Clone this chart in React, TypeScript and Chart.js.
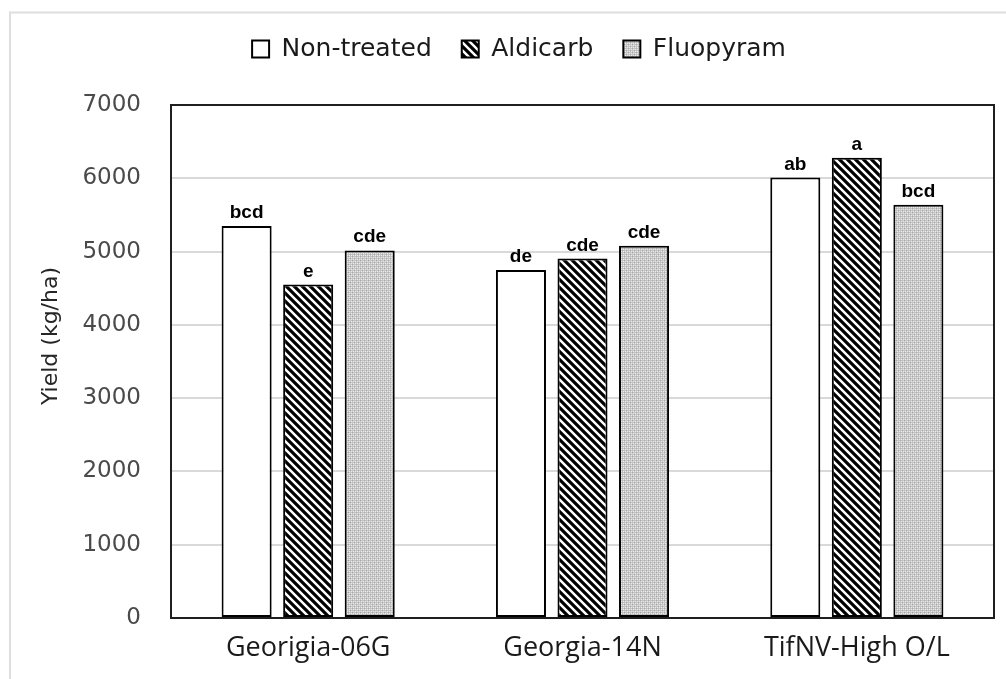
import React, { useEffect, useRef } from "react";
import { Chart, registerables } from "chart.js";

Chart.register(...registerables);

const categories = ["Georigia-06G", "Georgia-14N", "TifNV-High O/L"];
const seriesNames = ["Non-treated", "Aldicarb", "Fluopyram"];
const nonTreated = [5350, 4750, 6010];
const aldicarb = [4550, 4905, 6280];
const fluopyram = [5015, 5080, 5640];
const nonTreatedLetters = ["bcd", "de", "ab"];
const aldicarbLetters = ["e", "cde", "a"];
const fluopyramLetters = ["cde", "cde", "bcd"];
const yTicks = [0, 1000, 2000, 3000, 4000, 5000, 6000, 7000];
const yTitle = "Yield (kg/ha)";

function makeStripe(ctx: CanvasRenderingContext2D): CanvasPattern | string {
  const c = document.createElement("canvas");
  c.width = 8;
  c.height = 8;
  const g = c.getContext("2d")!;
  g.fillStyle = "#ffffff";
  g.fillRect(0, 0, 8, 8);
  g.strokeStyle = "#000000";
  g.lineWidth = 3.2;
  g.beginPath();
  g.moveTo(-2, -2);
  g.lineTo(10, 10);
  g.moveTo(-2, 6);
  g.lineTo(2, 10);
  g.moveTo(6, -2);
  g.lineTo(10, 2);
  g.stroke();
  return ctx.createPattern(c, "repeat") || "#777";
}

function makeDots(ctx: CanvasRenderingContext2D): CanvasPattern | string {
  const c = document.createElement("canvas");
  c.width = 4;
  c.height = 4;
  const g = c.getContext("2d")!;
  g.fillStyle = "#ececec";
  g.fillRect(0, 0, 4, 4);
  g.fillStyle = "#c4c4c4";
  g.fillRect(0, 0, 4, 1);
  g.fillRect(0, 2, 4, 1);
  g.fillRect(0, 0, 1, 4);
  g.fillRect(2, 0, 1, 4);
  g.fillStyle = "#a8a8a8";
  g.fillRect(0, 0, 1, 1);
  g.fillRect(2, 2, 1, 1);
  return ctx.createPattern(c, "repeat") || "#ddd";
}

const letterSets = [nonTreatedLetters, aldicarbLetters, fluopyramLetters];

const decorPlugin = {
  id: "decor",
  beforeDraw(chart: any) {
    const ctx = chart.ctx as CanvasRenderingContext2D;
    ctx.save();
    ctx.fillStyle = "#ffffff";
    ctx.fillRect(0, 0, chart.width, chart.height);
    ctx.strokeStyle = "#dedede";
    ctx.lineWidth = 2;
    ctx.beginPath();
    ctx.moveTo(10, chart.height);
    ctx.lineTo(10, 12.5);
    ctx.lineTo(chart.width, 12.5);
    ctx.stroke();
    ctx.restore();
    const lg = chart.legend;
    if (lg) {
      const h = lg.height;
      lg.left = 0;
      lg.right = 1038;
      lg.top = 6.5;
      lg.bottom = 6.5 + h;
    }
  },
  afterDatasetsDraw(chart: any) {
    const ctx = chart.ctx as CanvasRenderingContext2D;
    const a = chart.chartArea;
    ctx.save();
    ctx.strokeStyle = "#1f1f1f";
    ctx.lineWidth = 2;
    ctx.strokeRect(a.left, a.top, a.right - a.left, a.bottom - a.top);
    ctx.fillStyle = "#000000";
    ctx.font = "bold 19px 'Liberation Sans', Arial, sans-serif";
    ctx.textAlign = "center";
    ctx.textBaseline = "alphabetic";
    chart.data.datasets.forEach((ds: any, di: number) => {
      const meta = chart.getDatasetMeta(di);
      meta.data.forEach((el: any, i: number) => {
        ctx.fillText(letterSets[di][i], el.x, el.y - 8);
      });
    });
    ctx.restore();
  },
  afterDraw(chart: any) {
    const ctx = chart.ctx as CanvasRenderingContext2D;
    ctx.save();
    ctx.translate(51, 336);
    ctx.rotate(-Math.PI / 2);
    ctx.fillStyle = "#262626";
    ctx.font = "22px 'DejaVu Sans', sans-serif";
    ctx.textAlign = "center";
    ctx.textBaseline = "middle";
    ctx.fillText(yTitle, 0, 0);
    ctx.restore();
  },
};

export default function App() {
  const ref = useRef<HTMLCanvasElement>(null);
  useEffect(() => {
    const canvas = ref.current!;
    const ctx = canvas.getContext("2d")!;
    const stripe = makeStripe(ctx);
    const dots = makeDots(ctx);
    const common = {
      borderColor: "#000000",
      borderWidth: 2,
      borderSkipped: false,
      barPercentage: 0.813,
      categoryPercentage: 0.673,
    };
    const chart = new Chart(canvas, {
      type: "bar",
      data: {
        labels: categories,
        datasets: [
          { ...common, label: seriesNames[0], data: nonTreated, backgroundColor: "#ffffff" },
          { ...common, label: seriesNames[1], data: aldicarb, backgroundColor: stripe as any },
          { ...common, label: seriesNames[2], data: fluopyram, backgroundColor: dots as any },
        ],
      } as any,
      options: {
        responsive: false,
        animation: false,
        devicePixelRatio: 1,
        layout: { padding: { left: 10, right: 12, top: 40, bottom: 0 } },
        plugins: {
          legend: {
            position: "top",
            labels: {
              font: { family: "'DejaVu Sans', sans-serif", size: 25 },
              color: "#1a1a1a",
              boxWidth: 17,
              boxHeight: 17,
              padding: 30,
            },
          },
          tooltip: { enabled: false },
        },
        scales: {
          x: {
            grid: { display: false, drawTicks: false },
            border: { display: false },
            ticks: {
              font: { family: "'Open Sans', sans-serif", size: 27 },
              color: "#1a1a1a",
              padding: 14,
              maxRotation: 0,
            },
            afterFit(scale: any) {
              scale.height = 61;
            },
          },
          y: {
            min: 0,
            max: 7000,
            afterBuildTicks(scale: any) {
              scale.ticks = yTicks.map((v) => ({ value: v }));
            },
            grid: { color: "#d9d9d9", lineWidth: 2, drawTicks: false },
            border: { display: false },
            ticks: {
              font: { family: "'DejaVu Sans', sans-serif", size: 23 },
              color: "#4a4a4a",
              padding: 30,
              callback: (v: any) => String(v),
            },
            afterFit(scale: any) {
              scale.width = 161;
            },
          },
        },
      } as any,
      plugins: [decorPlugin],
    });
    return () => chart.destroy();
  }, []);
  return (
    <div style={{ position: "absolute", left: 0, top: 0, width: 1006, height: 679, background: "#fff" }}>
      <canvas ref={ref} width={1006} height={679} style={{ width: 1006, height: 679, display: "block" }} />
    </div>
  );
}
